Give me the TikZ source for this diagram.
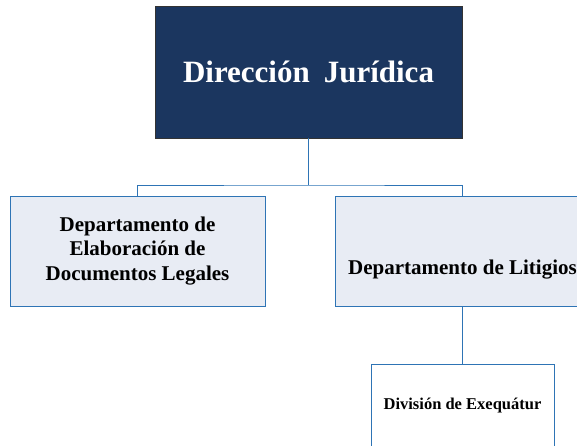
\documentclass[tikz,border=0pt]{standalone}
\usepackage{fontspec}
\setmainfont{Liberation Serif}
\definecolor{navy}{HTML}{1B365F}
\definecolor{pale}{HTML}{E8ECF4}
\definecolor{lineblue}{HTML}{2E74B5}
\begin{document}
\begin{tikzpicture}[x=1pt,y=-1pt,
  topbox/.style={draw=black!80, fill=navy, text=white, line width=0.8pt, minimum width=307pt, minimum height=132pt, inner sep=0pt, font=\fontsize{31}{35}\selectfont\bfseries},
  deptbox/.style={draw=lineblue, fill=pale, line width=0.9pt, minimum width=255pt, minimum height=110pt, inner sep=0pt, align=center, font=\fontsize{21}{23.5}\selectfont\bfseries},
  divbox/.style={draw=lineblue, fill=white, line width=0.9pt, minimum width=183pt, minimum height=84pt, inner sep=0pt, font=\fontsize{16.5}{19}\selectfont\bfseries},
  conn/.style={draw=lineblue, line width=0.9pt}]
\useasboundingbox (0,0) rectangle (577,445);
\clip (0,0) rectangle (577,445);
\node[topbox] (top) at (308.5,72) {Dirección\hspace{0.45em}Jurídica};
\node[deptbox] (left) at (137.5,251) {Departamento de\\[1pt]Elaboración de\\[1pt]Documentos Legales};
\node[deptbox, text height=52pt] (right) at (462.5,251) {Departamento de Litigios};
\node[divbox] (div) at (462.5,406) {División de Exequátur};
\coordinate (bus) at (308.5,185);
\draw[conn] (top.south) -- (bus);
\draw[conn] (left.north) |- (bus) -| (right.north);
\draw[conn] (right.south) -- (div.north);
\end{tikzpicture}
\end{document}
